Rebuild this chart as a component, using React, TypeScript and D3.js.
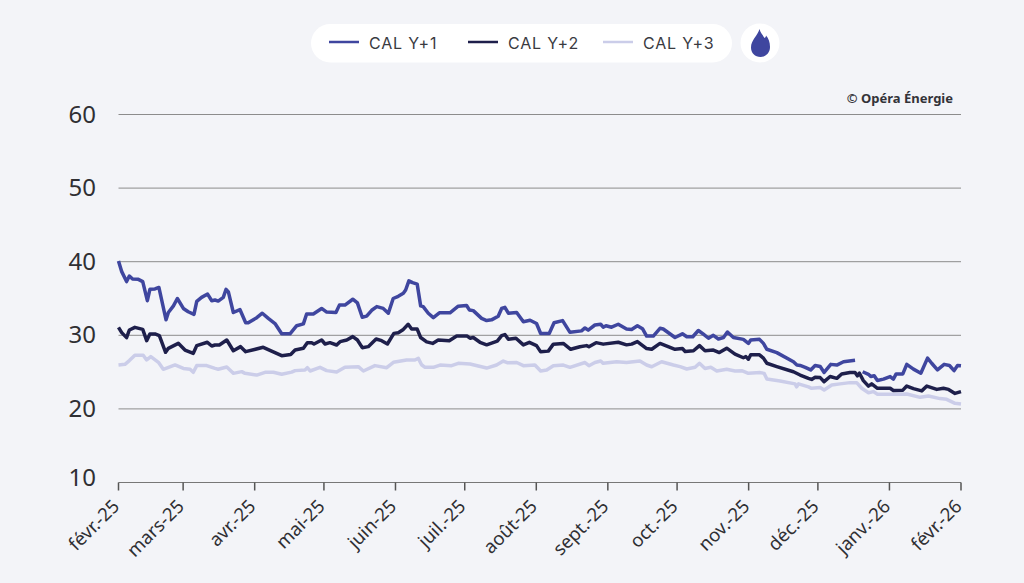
import React from "react";
import * as d3 from "d3";

const tickLabels = ["févr.-25","mars-25","avr.-25","mai-25","juin-25","juil.-25","août-25","sept.-25","oct.-25","nov.-25","déc.-25","janv.-26","févr.-26"];
const yTicks = [10,20,30,40,50,60];

const y1Days = [0,1.4,3.5,4.7,6.1,8.6,10.5,12.5,13.6,15.8,17.5,20.6,21.6,23.8,25.5,28.1,30.2,32.7,33.9,36,38.6,40.4,41.8,43.2,45.4,46.6,47.6,49.75,52.6,55.1,56.2,59.9,62.3,64.9,67.8,70.7,74.3,77.2,80.1,81.5,84.4,88,90.2,94.2,95.7,98.1,101.5,103.5,105.6,107.5,109.7,111.9,114.7,116.9,119,121.2,123.4,124.4,125.8,127.4,129.4,130.9,132,134.2,136.4,139,143.6,147.2,150.8,152,153.7,157.3,159.5,161.6,164.5,166,167.4,168.9,172.5,175.4,178.3,181.1,182.9,186.6,188.7,192.4,195.6,200.6,202.1,203.5,206.4,208.9,210,211.2,213.6,216.5,220.1,222.3,224.8,227,228.8,231.7,234.6,236,241.1,244.3,246.2,248.8,251.2,253.4,255.6,257.7,259.9,262.1,263.8,266.4,270.7,272.9,273.9,277.7,279.4,280.9,285.2,292.4,293.9,295.3,297.5,299.9,301.8,304,305.7,308.6,311.2,314.1,319.1,320.7,322.4,324.9,325.9,327.4,328.8,331.4,334.3,335.7,336.9,339.8,341.5,344.4,347.6,350.5,352.3,354.8,357.7,360,362,363.5,365];
const y1Values = [40.1,38.65,37.3,38.06,37.65,37.6,37.3,34.7,36.25,36.3,36.5,32.1,33.1,34,35,33.65,33.2,32.85,34.6,35.15,35.6,34.7,34.8,34.65,35.15,36.25,35.9,33.1,33.5,31.7,31.7,32.4,33,32.3,31.6,30.2,30.2,31.3,31.55,32.9,32.9,33.65,33.15,33.1,34.1,34.1,34.9,34.4,32.45,32.6,33.4,33.9,33.65,33,35,35.3,35.7,36.15,37.4,37.15,36.95,34,33.9,33,32.4,33.05,33.05,33.95,34.05,33.45,33.35,32.3,32,32.1,32.6,33.65,33.8,33,33.1,31.85,32.05,31.6,30.25,30.25,31.7,32,30.4,30.6,31,30.7,31.4,31.5,31.1,31.3,31.1,31.5,30.85,30.8,31.3,30.9,29.9,29.9,30.95,30.85,29.7,30.2,29.8,29.8,30.65,30.15,29.6,30,29.5,29.7,30.45,29.7,29.45,28.9,29.35,29.45,28.9,28.1,27.65,26.4,25.95,25.9,25.65,25.3,25.9,25.75,24.95,26.05,25.95,26.4,26.6,NaN,25.05,24.7,24.4,24.5,23.85,24.05,24.4,24.05,24.75,24.75,26.05,25.4,24.85,26.9,26.2,25.3,26.05,25.9,25.2,25.9,25.85];

const y2Days = [0,1.4,3.5,4.7,7.1,10.5,12.2,13.6,15.8,17.7,20.4,21.6,25.9,28.8,32.4,33.9,38.5,40.4,41.8,43.7,46.9,49.75,52.9,55.1,62.7,70.7,74.6,76.5,80.1,81.8,83.7,84.7,88,89.5,91.6,94.5,96,98.9,101.5,103.5,105.6,108.2,111.6,114,116.5,119.3,121.2,123.4,125.5,127,129.4,130.9,133.5,136.1,138.5,143.3,146.5,151.1,152.3,153.7,156.6,159.5,164.1,166,167.4,168.9,172.2,175.4,178,181.1,182.9,186.2,188.4,192.7,195.9,199.9,202.8,203.8,206.9,210,216.5,220.1,222.3,224.8,228.8,231,234.6,241.1,244.3,245.5,249.1,251.7,254.1,257.7,260.3,263.5,267.1,270.7,271.8,272.9,273.9,277.7,279.4,280.9,285.2,292.4,295.3,298.9,300.3,301.8,304,305.7,308.3,311.2,313.3,316.9,319.1,320.1,321,322.7,324.9,326.3,328.8,334.3,335.7,339.8,341.5,344.4,348,350.2,354.5,357.4,359.6,362.4,365];
const y2Values = [31.08,30.36,29.68,30.72,31.08,30.81,29.27,30.18,30.18,29.95,27.69,28.23,28.91,28,27.55,28.6,29.05,28.55,28.68,28.68,29.36,27.9,28.46,27.78,28.37,27.23,27.4,28,28.23,29,29,28.82,29.36,28.82,29,28.68,29.14,29.36,29.82,29.36,28.32,28.46,29.5,29.27,28.82,30.26,30.35,30.8,31.5,30.85,30.85,29.7,29.1,28.9,29.35,29.25,29.9,29.9,29.6,29.7,29.05,28.7,29.2,29.95,30.1,29.45,29.6,28.7,29.05,28.6,27.75,27.85,28.8,28.9,28.1,28.45,28.6,28.45,29,28.8,29.05,28.7,28.8,29.15,28.2,28.1,28.9,28.1,28.2,27.8,27.9,28.6,27.9,28,27.65,28.25,27.45,26.95,27.1,26.75,27.35,27.35,26.9,26.2,25.75,25.05,24.6,24.15,24,24.3,24.25,23.7,24.4,24.15,24.75,24.95,24.95,24.5,24.85,23.85,23.1,23.4,22.8,22.8,22.5,22.55,23.1,22.75,22.45,23.1,22.65,22.8,22.65,22.1,22.35];

const y3Days = [0,2.8,4.7,7.1,10.7,12.2,14,17.3,19.4,24.5,28.1,31,32.4,33.9,38.2,41.8,43.2,46.9,49.75,53.4,54.8,59.9,63.5,67.1,70.7,75,76.5,80.8,81.8,83,87.3,90.2,94.5,98.1,103.9,106.1,111.1,116.2,119.1,124.8,128.4,129.9,131.3,132.8,136.4,139.3,144.3,147.2,152.3,159.5,163.8,166.7,168.4,172.5,175.4,180.4,182.9,185.5,188.4,192.7,195.6,202.1,203.8,206.4,208.9,210,215.8,220.1,225.9,228.8,231,235.3,240.4,243.3,246.2,249.8,251.7,254.1,256.6,259.2,263.5,267.1,270,272.9,278,279.7,280.9,286.6,293.1,293.8,294.6,298.9,300.3,304,305.7,309,312.6,316.9,319.8,322,324.9,327,328.8,337.2,341.5,347.3,350.9,355.9,358.8,362.4,365];
const y3Values = [25.97,26.06,26.56,27.3,27.3,26.65,27.1,26.33,25.38,25.97,25.5,25.38,24.97,25.88,25.88,25.5,25.38,25.7,24.83,25.06,24.83,24.6,24.97,24.97,24.7,25,25.2,25.3,25.6,25.15,25.65,25.2,25,25.65,25.74,25.15,25.88,25.6,26.33,26.64,26.64,26.87,26,25.65,25.65,25.96,25.87,26.19,26.1,25.55,25.96,26.5,26.28,26.3,25.87,25.96,25.15,25.28,25.87,25.96,25.65,26.3,25.87,26.3,26.5,26.19,26.4,26.3,26.5,25.96,25.73,26.4,25.96,25.74,25.42,25.65,26.2,25.5,25.65,25.15,25.38,25.15,25.2,24.83,24.93,24.83,24.06,23.8,23.4,23,23.4,23,22.8,22.9,22.57,23.25,23.4,23.57,23.57,22.8,22.2,22.35,22,22,22.03,21.57,21.75,21.4,21.3,20.76,20.67];

const seriesNames = ["CAL Y+1","CAL Y+2","CAL Y+3"];
const seriesDays = [y1Days,y2Days,y3Days];
const seriesValues = [y1Values,y2Values,y3Values];
const seriesColors = ["#3f469f","#1e1f4b","#cbcde9"];
const legendX = [329,468,603];

const start = new Date(Date.UTC(2025,1,1));
const end = new Date(Date.UTC(2026,1,1));
const x = d3.scaleUtc().domain([start,end]).range([118.5,961]);
const y = d3.scaleLinear().domain([10,60]).range([482.5,114.5]);
const months = d3.utcMonth.range(start,d3.utcMonth.offset(end,1));
const font = "'Noto Sans', sans-serif";

export default function App() {
  const paths = seriesDays.map((days,s)=>{
    const pts = days.map((d,i)=>({t:new Date(start.getTime()+d*864e5),v:seriesValues[s][i]}));
    return d3.line<{t:Date;v:number}>().defined(p=>!isNaN(p.v)).x(p=>x(p.t)).y(p=>y(p.v))(pts) as string;
  });
  return (
    <svg width={1024} height={583} style={{position:"absolute",left:0,top:0,fontFamily:font}}>
      <rect width={1024} height={583} fill="#f3f4f8"/>
      <rect x={311} y={24} width={421} height={38.5} rx={19.25} fill="#fff"/>
      <circle cx={760} cy={43} r={19.5} fill="#fff"/>
      <path d="M759.5 29 C760.5 33 763 35 764.5 38 C765.5 37.5 766 36.5 766 35.5 C768.5 38.5 770 42 770 47 C770 53 765.5 57 760.5 57 C755 57 751 53 751 47.5 C751 40 757.5 36 759.5 29 Z" fill="#3f469f"/>
      {seriesNames.map((n,i)=>(
        <g key={n}>
          <line x1={legendX[i]} x2={legendX[i]+30} y1={42} y2={42} stroke={seriesColors[i]} strokeWidth={2.5}/>
          <text x={legendX[i]+40} y={49} fontFamily="Inter, sans-serif" fontSize={16} letterSpacing={0.8} fill="#3a3a3f">{n}</text>
        </g>
      ))}
      <text x={953} y={103} textAnchor="end" fontSize={13} fontWeight={700} fill="#333338">© Opéra Énergie</text>
      {yTicks.map(t=>(
        <g key={t}>
          {t>10 && <line x1={118.5} x2={961} y1={y(t)} y2={y(t)} stroke="#8c8c8c" strokeWidth={1}/>}
          <text x={96} y={y(t)+(t===10?3:8)} textAnchor="end" fontSize={24} fill="#2f2f33">{t}</text>
        </g>
      ))}
      <line x1={118.5} x2={961} y1={y(10)} y2={y(10)} stroke="#777" strokeWidth={1}/>
      {months.map((m,i)=>(
        <g key={i} transform={`translate(${x(m)},${y(10)})`}>
          <line y2={8} stroke="#555" strokeWidth={1.5}/>
          <text transform="translate(2,25) rotate(-45)" textAnchor="end" fontSize={18.5} fill="#2f2f33">{tickLabels[i]}</text>
        </g>
      ))}
      {[2,1,0].map(i=>(
        <path key={i} d={paths[i]} fill="none" stroke={seriesColors[i]} strokeWidth={3.5} strokeLinejoin="round"/>
      ))}
    </svg>
  );
}
